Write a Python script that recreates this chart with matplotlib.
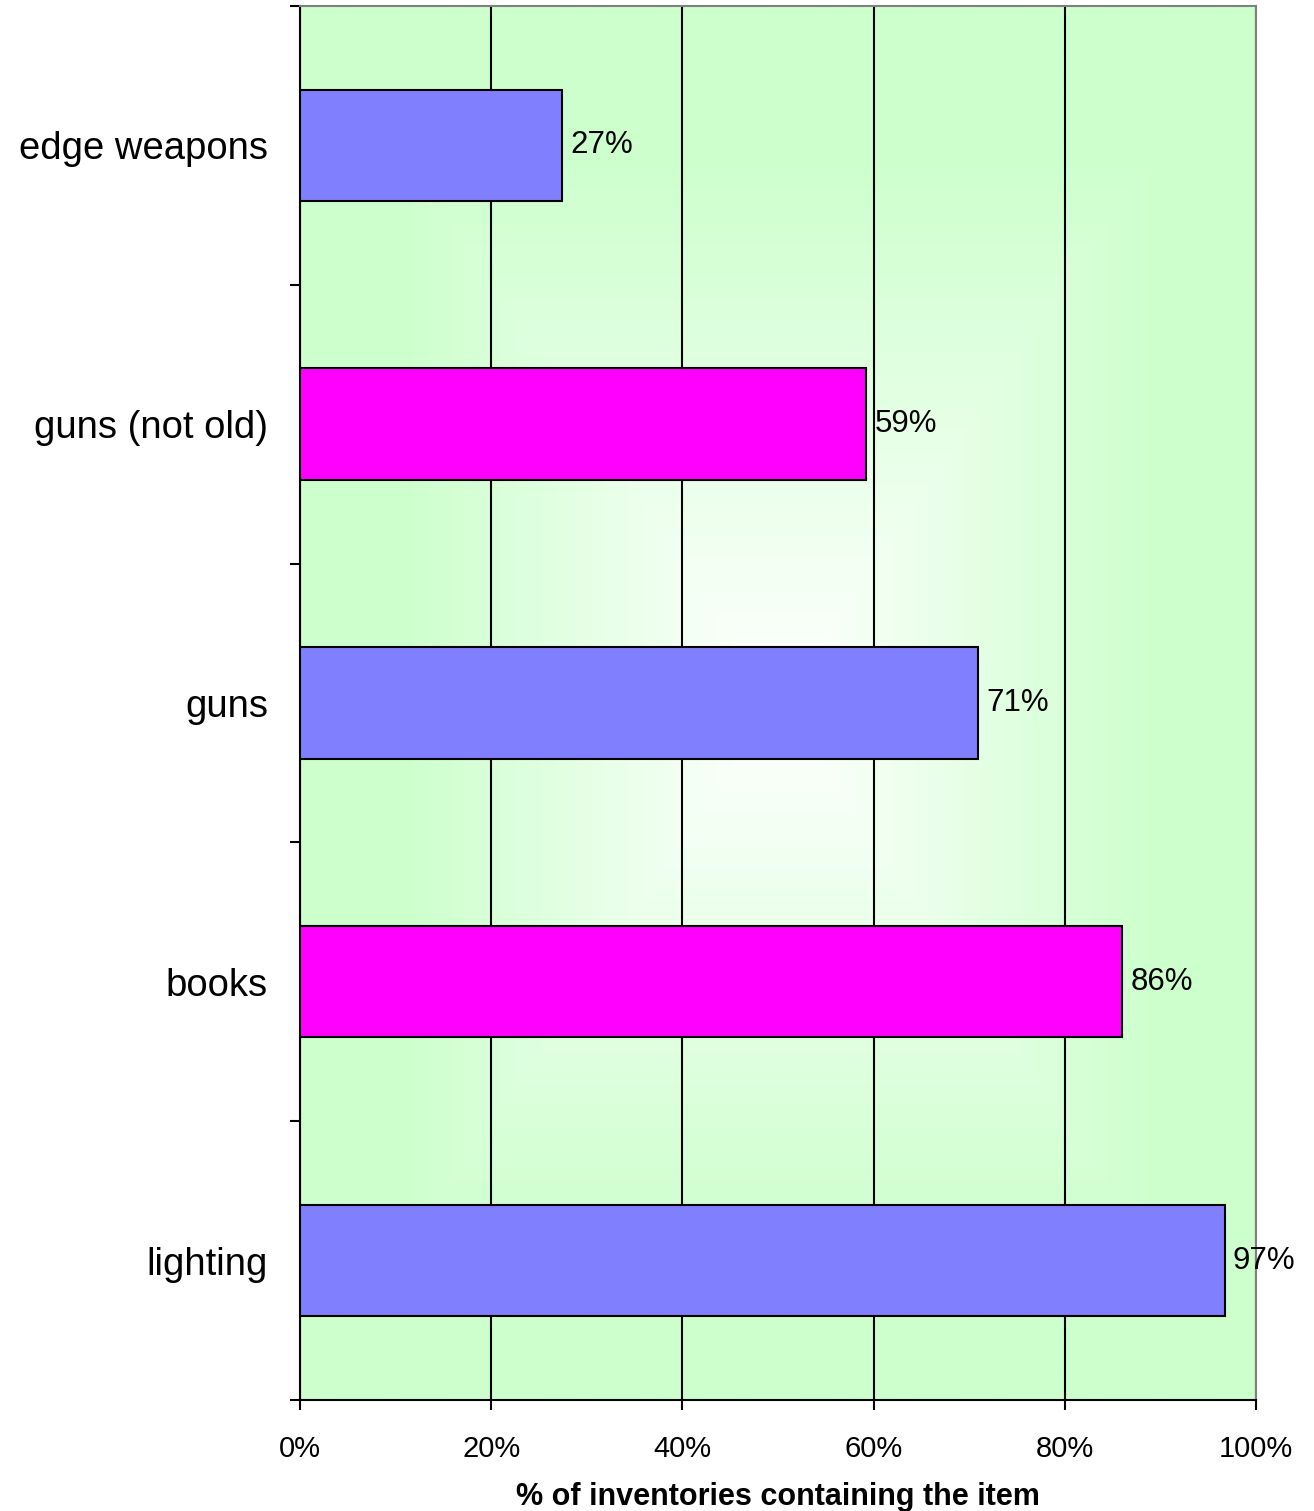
import matplotlib.pyplot as plt
import numpy as np
from matplotlib.colors import LinearSegmentedColormap

plt.rcParams['font.family'] = ['Liberation Sans', 'DejaVu Sans']

items = ['edge weapons', 'guns (not old)', 'guns', 'books', 'lighting']
share = [27.4, 59.2, 70.9, 86.0, 96.7]
bar_colors = ['#8080FF', '#FF00FF', '#8080FF', '#FF00FF', '#8080FF']

fig = plt.figure(figsize=(13.14, 15.11), dpi=100)
ax = fig.add_axes([0.2283, 0.0735, 0.7276, 0.9226])

# background: light green edges fading to white in the middle
u, v = np.meshgrid(np.linspace(-1, 1, 400), np.linspace(-1, 1, 400))
t = np.clip(np.maximum(np.abs(u), np.abs(v)) * 1.25, 0, 1)
cmap = LinearSegmentedColormap.from_list('bg', ['#FFFFFF', '#CCFFCC'])
ax.imshow(t, cmap=cmap, extent=(0, 100, len(items) - 0.5, -0.5),
          aspect='auto', zorder=0, interpolation='bilinear')

y = np.arange(len(items))
bars = ax.barh(y, share, height=0.4, color=bar_colors, edgecolor='black',
               linewidth=1.5, zorder=3)
ax.bar_label(bars, labels=['%d%%' % round(s) for s in share], padding=6,
             fontsize=22.5)

ax.set_xlim(0, 100)
ax.set_ylim(len(items) - 0.5, -0.5)
ax.set_xticks(np.arange(0, 101, 20))
ax.set_xticklabels(['%d%%' % x for x in range(0, 101, 20)], fontsize=21)
ax.set_yticks(y)
ax.set_yticklabels(items, fontsize=27.5)
ax.set_yticks(np.arange(-0.5, len(items)), minor=True)
ax.tick_params(axis='y', which='major', length=0, pad=23)
ax.tick_params(axis='y', which='minor', length=7, width=1.5, direction='out')
ax.tick_params(axis='x', length=7, width=1.5, direction='out', pad=18)

ax.grid(axis='x', color='black', linewidth=1.5, zorder=1)
ax.set_axisbelow(True)
for s in ['left', 'bottom']:
    ax.spines[s].set_linewidth(1.5)
    ax.spines[s].set_color('black')
for s in ['top', 'right']:
    ax.spines[s].set_linewidth(1.5)
    ax.spines[s].set_color('#808080')

ax.set_xlabel('% of inventories containing the item', fontsize=22,
              fontweight='bold', labelpad=14)

fig.savefig('out.png', dpi=100)
